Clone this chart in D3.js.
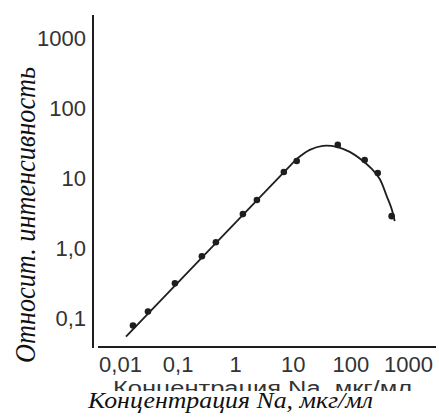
<!DOCTYPE html>
<html><head><meta charset="utf-8">
<script src="https://cdn.jsdelivr.net/npm/d3@7"></script>
<style>html,body{margin:0;padding:0;background:#fff;}svg{display:block;}</style>
</head><body>
<svg id="c" width="439" height="417"></svg>
<script>
// Data
const concentration = [0.0168, 0.0306, 0.0899, 0.264, 0.462, 1.36, 2.38, 6.99, 11.7, 60.4, 177, 298, 521];
const intensity     = [0.0794, 0.126, 0.318, 0.774, 1.23, 3.10, 4.92, 12.4, 17.8, 30.2, 18.4, 12.0, 2.90];
const lineConc      = [0.0127, 11.7];
const lineInt       = [0.0552, 19.0];
const curveConc     = [11.7, 19.7, 33.2, 58.0, 97.5, 157, 235, 323, 427, 521, 588];
const curveInt      = [19.0, 25.6, 29.2, 28.3, 24.0, 18.4, 13.7, 9.84, 5.61, 3.65, 2.46];
const xTicks = [0.01, 0.1, 1, 10, 100, 1000];
const xTickLabels = ["0,01", "0,1", "1", "10", "100", "1000"];
const yTicks = [0.1, 1, 10, 100, 1000];
const yTickLabels = ["0,1", "1,0", "10", "100", "1000"];
const xTitle = "Концентрация Na, мкг/мл";
const yTitle = "Относит. интенсивность";

const ink = "#1e1e1e";
const svg = d3.select("#c");
const x = d3.scaleLog().domain([0.01, 1000]).range([120, 408]);
const y = d3.scaleLog().domain([0.1, 1000]).range([318.5, 38.5]);

// axis lines
svg.append("line").attr("x1", 93).attr("x2", 93).attr("y1", 15).attr("y2", 348)
  .attr("stroke", ink).attr("stroke-width", 2);
svg.append("line").attr("x1", 98).attr("x2", 436).attr("y1", 347).attr("y2", 347)
  .attr("stroke", ink).attr("stroke-width", 2);

// axes labels
const gx = svg.append("g").attr("transform", "translate(0,347)")
  .call(d3.axisBottom(x).tickValues(xTicks).tickSize(0).tickPadding(9)
    .tickFormat((d, i) => xTickLabels[i]));
const gy = svg.append("g").attr("transform", "translate(93,0)")
  .call(d3.axisLeft(y).tickValues(yTicks).tickSize(0).tickPadding(7)
    .tickFormat((d, i) => yTickLabels[i]));
[gx, gy].forEach(g => {
  g.select(".domain").remove();
  g.selectAll("text").attr("font-family", "'Liberation Sans', Arial, sans-serif")
    .attr("font-size", 22).attr("fill", "#333");
});

// fitted line
const lineGen = d3.line().x(d => x(d[0])).y(d => y(d[1]));
svg.append("path").datum(lineConc.map((c, i) => [c, lineInt[i]]))
  .attr("d", lineGen).attr("fill", "none").attr("stroke", ink).attr("stroke-width", 1.8);
svg.append("path").datum(curveConc.map((c, i) => [c, curveInt[i]]))
  .attr("d", lineGen.curve(d3.curveCatmullRom.alpha(0.5)))
  .attr("fill", "none").attr("stroke", ink).attr("stroke-width", 1.8);

// points
svg.append("g").selectAll("circle").data(concentration.map((c, i) => [c, intensity[i]]))
  .join("circle").attr("cx", d => x(d[0])).attr("cy", d => y(d[1])).attr("r", 3.3).attr("fill", ink);

// partially hidden old axis title (cut off in the original scan)
const clip = svg.append("clipPath").attr("id", "cut");
clip.append("rect").attr("x", 0).attr("y", 370).attr("width", 439).attr("height", 21);
svg.append("text").attr("clip-path", "url(#cut)")
  .attr("x", 113).attr("y", 395)
  .attr("font-family", "'Liberation Sans', Arial, sans-serif").attr("font-size", 20)
  .attr("fill", "#333")
  .attr("textLength", 299).attr("lengthAdjust", "spacingAndGlyphs")
  .text(xTitle);

// axis titles
svg.append("text").attr("x", 88).attr("y", 408)
  .attr("font-family", "'Liberation Serif', 'Times New Roman', serif")
  .attr("font-style", "italic").attr("font-size", 23).attr("fill", "#111")
  .attr("textLength", 285).attr("lengthAdjust", "spacingAndGlyphs")
  .text(xTitle);
svg.append("text").attr("transform", "translate(35,363) rotate(-90)")
  .attr("font-family", "'Liberation Serif', 'Times New Roman', serif")
  .attr("font-style", "italic").attr("font-size", 30).attr("fill", "#111")
  .attr("textLength", 296).attr("lengthAdjust", "spacingAndGlyphs")
  .text(yTitle);
</script>
</body></html>
